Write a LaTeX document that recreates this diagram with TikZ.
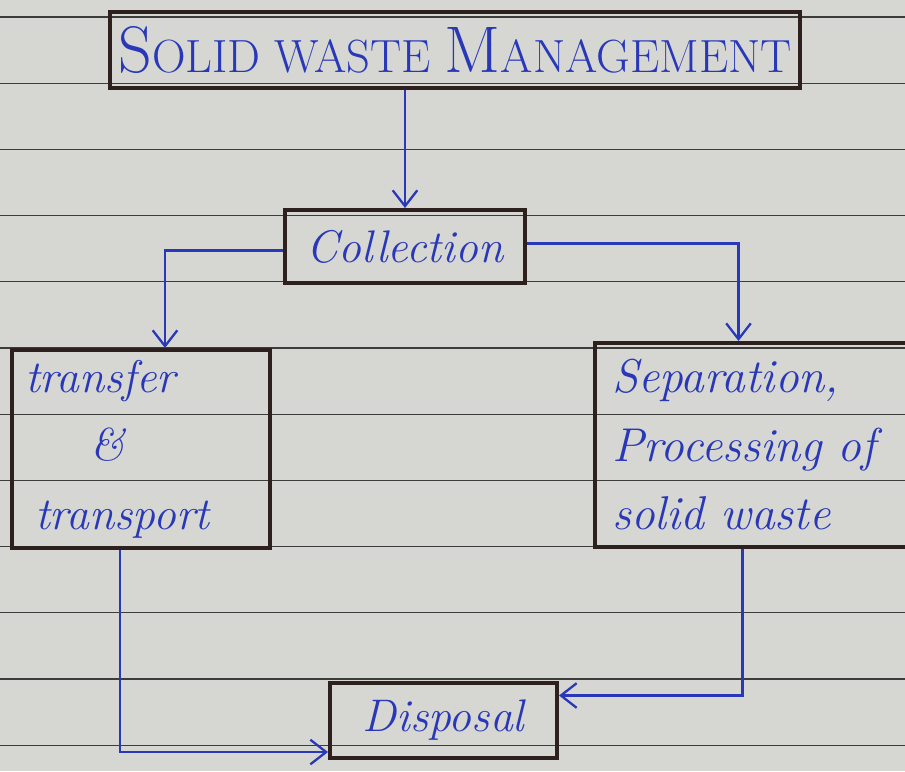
\documentclass[tikz,border=0pt]{standalone}
\usetikzlibrary{arrows.meta,calc}
\definecolor{paper}{HTML}{D6D6D3}
\definecolor{rule}{HTML}{3C3C3C}
\definecolor{frame}{HTML}{2E201C}
\definecolor{ink}{HTML}{2838B8}
\begin{document}
\begin{tikzpicture}[x=0.02cm,y=-0.02cm,
  box/.style={draw=frame,line width=2.3pt,rectangle,inner sep=0pt,text=ink,font=\itshape,align=center},
  link/.style={draw=ink,line width=1.3pt},
  tip/.style={-{Straight Barb[length=9pt,width=14pt,line width=1.3pt]}}]
\fill[paper] (0,0) rectangle (905,771);
\useasboundingbox (0,0) rectangle (905,771);
\foreach \k in {0,...,11}{\draw[rule,line width=0.6pt] (0,{17+66.2*\k}) -- (905,{17+66.2*\k});}
\node[box,minimum width=13.8cm,minimum height=1.52cm,font=\fontsize{26.5}{30}\selectfont] (title) at (455,50)
  {{\fontsize{37.5}{40}\selectfont S}OLID WASTE {\fontsize{37.5}{40}\selectfont M}ANAGEMENT};
\node[box,minimum width=4.8cm,minimum height=1.46cm,font=\itshape\fontsize{26}{30}\selectfont] (coll) at (405,246.5) {Collection};
\node[box,minimum width=5.16cm,minimum height=3.96cm,text width=4.64cm,align=left,font=\itshape\fontsize{26}{39}\selectfont] (trans) at (141,449) {transfer\\\hspace*{1.3cm}\&\\\hspace*{0.2cm}transport};
\node[box,minimum width=6.3cm,minimum height=4.08cm,text width=5.62cm,align=left,font=\itshape\fontsize{27}{39}\selectfont] (sep) at (752.5,445) {Separation,\\Processing of\\solid waste};
\node[box,minimum width=4.54cm,minimum height=1.5cm,font=\itshape\fontsize{26}{30}\selectfont] (disp) at (443.5,720.5) {Disposal};
\coordinate (tA) at ($(trans.north)+(24,0)$);
\coordinate (sA) at ($(sep.north)+(-14,0)$);
\coordinate (tB) at ($(trans.south)+(-21,0)$);
\coordinate (sB) at ($(sep.south)+(-10,0)$);
\coordinate (dL) at ($(disp.south west)+(0,-8)$);
\coordinate (dR) at ($(disp.east)+(0,-25)$);
\draw[link,tip] (coll.north |- title.south) -- (coll.north);
\draw[link,tip] ($(coll.west)+(0,4)$) -| (tA);
\draw[link,tip] ($(coll.east)+(0,-3)$) -| (sA);
\draw[link,tip] (tB) |- (dL);
\draw[link,tip] (sB) |- (dR);
\end{tikzpicture}
\end{document}
